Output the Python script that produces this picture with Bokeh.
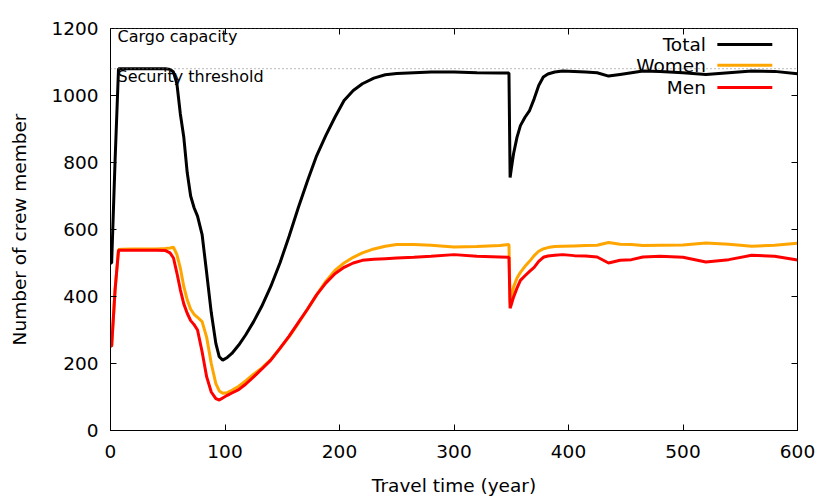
from bokeh.plotting import figure
from bokeh.models import Range1d, LinearAxis, Span, Label, FixedTicker
from bokeh.embed import file_html
from bokeh.resources import INLINE

years = [0, 1, 4, 7, 10, 20, 30, 40, 48, 52, 55, 58, 61, 64, 67, 70, 73, 76, 80, 84, 88,
         92, 95, 98, 102, 106, 112, 118, 125, 132, 140, 148, 156, 164, 172, 180, 188,
         196, 204, 212, 220, 230, 240, 250, 265, 280, 300, 320, 340, 348, 349, 350, 352,
         355, 358, 362, 366, 370, 374, 378, 382, 388, 395, 405, 415, 425, 435, 445, 455,
         465, 480, 500, 520, 540, 560, 580, 600]

total = [500, 500, 806, 1080, 1080, 1080, 1080, 1080, 1080, 1078, 1070, 1035, 945, 876, 770, 700, 665, 640, 585, 470, 352,
         260, 220, 210, 218, 230, 255, 285, 325, 370, 430, 500, 580, 665, 745, 820, 880,
         935, 985, 1015, 1035, 1052, 1062, 1066, 1068, 1070, 1070, 1068, 1067, 1067, 755, 780, 826,
         875, 910, 935, 955, 990, 1030, 1055, 1064, 1070, 1073, 1072, 1070, 1068, 1058, 1063, 1068,
         1073, 1072, 1068, 1063, 1068, 1073, 1072, 1065]

women = [252, 252, 420, 540, 541, 542, 542, 542, 543, 545, 547, 525, 485, 430, 390, 362, 347, 338, 325, 278, 200,
         140, 118, 111, 113, 120, 132, 148, 168, 186, 212, 245, 280, 320, 362, 405, 445,
         478, 500, 517, 530, 542, 550, 555, 555, 553, 548, 549, 552, 555, 380, 395, 428,
         455, 472, 490, 505, 522, 535, 542, 546, 549, 550, 551, 552, 553, 561, 556, 555,
         552, 553, 554, 560, 556, 550, 553, 559]

men = [252, 252, 420, 538, 538, 538, 538, 538, 537, 530, 515, 470, 420, 378, 350, 328, 316, 300, 235, 160, 115,
       95, 91, 97, 105, 112, 122, 138, 160, 183, 210, 245, 282, 322, 362, 405, 440,
       468, 487, 500, 508, 511, 513, 515, 517, 520, 525, 520, 518, 517, 365, 375, 398,
       425, 448, 462, 475, 487, 505, 517, 521, 523, 525, 522, 521, 518, 500, 508, 510,
       518, 520, 517, 503, 510, 523, 520, 509]

series_names = ["Total", "Women", "Men"]
series_colors = ["#000000", "#FFA500", "#FF0000"]

x_ticks = [0, 100, 200, 300, 400, 500, 600]
y_ticks = [0, 200, 400, 600, 800, 1000, 1200]

cargo_capacity = 1200
security_threshold = 1080

FONT = "DejaVu Sans"
FS = "18.5px"

p = figure(width=830, height=498, output_backend="svg", toolbar_location=None,
           x_range=Range1d(0, 600), y_range=Range1d(0, 1200),
           min_border_left=110, min_border_right=33, min_border_top=28, min_border_bottom=68)
p.background_fill_color = "white"
p.border_fill_color = "white"
p.outline_line_color = "black"
p.outline_line_width = 1
p.grid.visible = False

p.xaxis.axis_label = "Travel time (year)"
p.yaxis.axis_label = "Number of crew member"
for ax, ticks in ((p.xaxis[0], x_ticks), (p.yaxis[0], y_ticks)):
    ax.ticker = FixedTicker(ticks=ticks)
    ax.major_tick_in = 6
    ax.major_tick_out = 0
    ax.minor_tick_line_color = None
    ax.axis_line_color = "black"
    ax.major_tick_line_color = "black"
    ax.major_label_text_font = FONT
    ax.major_label_text_font_size = FS
    ax.major_label_text_color = "black"
    ax.axis_label_text_font = FONT
    ax.axis_label_text_font_size = FS
    ax.axis_label_text_font_style = "normal"
    ax.axis_label_text_color = "black"
p.xaxis.major_label_standoff = 14
p.xaxis.axis_label_standoff = 14
p.yaxis.major_label_standoff = 12
p.yaxis.axis_label_standoff = 18

for loc, ticks in (("above", x_ticks), ("right", y_ticks)):
    ax = LinearAxis(ticker=FixedTicker(ticks=ticks), major_tick_in=6, major_tick_out=0,
                    minor_tick_line_color=None, major_label_standoff=0,
                    major_label_overrides={t: "" for t in ticks},
                    axis_line_color="black")
    p.add_layout(ax, loc)

for level, name in ((cargo_capacity, "Cargo capacity"), (security_threshold, "Security threshold")):
    p.add_layout(Span(location=level, dimension="width", line_color="#777777",
                      line_width=1, line_dash="1 3"))
    p.add_layout(Label(x=0, y=level, x_offset=7, y_offset=2, text=name,
                       text_font=FONT, text_font_size="16px", text_baseline="top",
                       text_color="black"))

for vals, color in ((total, series_colors[0]), (women, series_colors[1]), (men, series_colors[2])):
    p.line(years, vals, line_color=color, line_width=3)

# gnuplot-style key: label on the left, sample line on the right
key_text_x = 520
key_line_x = [530, 578]
key_rows = [1152, 1090, 1024]
for name, color, ky in zip(series_names, series_colors, key_rows):
    p.add_layout(Label(x=key_text_x, y=ky, text=name, text_font=FONT, text_font_size=FS,
                       text_align="right", text_baseline="middle", text_color="black"))
    p.line(key_line_x, [ky, ky], line_color=color, line_width=3)

open("out.html", "w").write(file_html(p, INLINE))
